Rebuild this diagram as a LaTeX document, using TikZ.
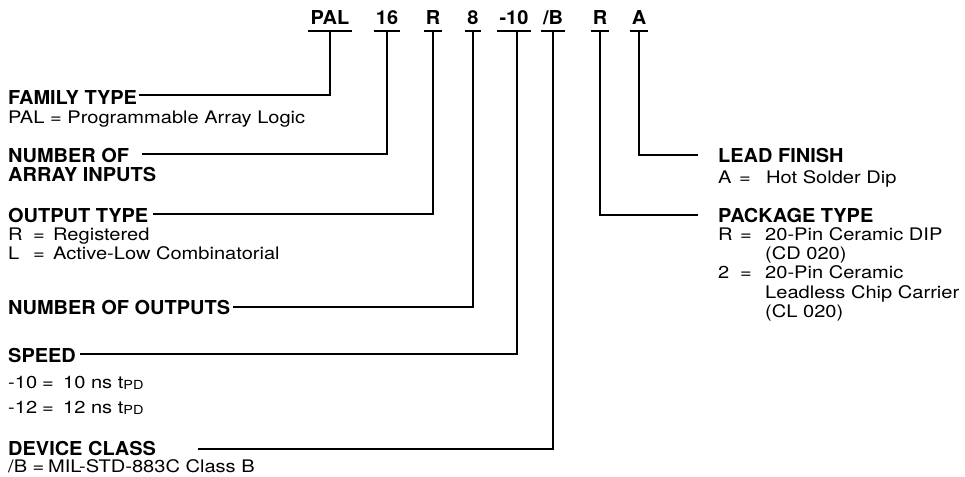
\documentclass[tikz,border=0pt]{standalone}
\usepackage{fontspec}
\setmainfont{TeX Gyre Heros}
\newfontfamily\regf[FakeStretch=1.16]{TeX Gyre Heros}
\newfontfamily\labf[FakeStretch=1.04]{TeX Gyre Heros}
\newcommand\myTpd{{\fontsize{12.5}{12.5}\selectfont\raisebox{-1.5pt}{PD}}}
\tikzset{
  lab/.style={font=\fontsize{19.2}{20}\labf\bfseries, inner sep=0pt, anchor=base},
  hd/.style={font=\fontsize{19.2}{20}\labf\bfseries, inner sep=0pt, anchor=base west},
  tx/.style={font=\fontsize{17.3}{18}\regf, inner sep=0pt, anchor=base west},
  conn/.style={line width=1.9pt, line join=miter},
  ul/.style={line width=2.4pt},
}
\begin{document}
\begin{tikzpicture}[x=1pt,y=-1pt]
\useasboundingbox (0,0) rectangle (965,476);
% top code letters
\node[lab] (tPAL) at (330,25) {PAL};
\node[lab] (t16) at (387,25) {16};
\node[lab] (tR) at (433,25) {R};
\node[lab] (t8) at (473,25) {8};
\node[lab] (t10) at (514,25) {-10};
\node[lab] (tB) at (553,25) {/B};
\node[lab] (tR2) at (600,25) {R};
\node[lab] (tA) at (639,25) {A};
\foreach \n in {tPAL,t16,tR,t8,t10,tB,tR2,tA}
  \draw[ul] ([shift={(-2,6)}]\n.base west) -- ([shift={(2,6)}]\n.base east);
% left descriptions
\node[hd] (fam) at (8,105) {FAMILY TYPE};
\node[tx] (famd) at (8,124) {PAL = Programmable Array Logic};
\node[hd] (nin) at (8,162) {NUMBER OF};
\node[hd] (nin2) at (8,181) {ARRAY INPUTS};
\node[hd] (otp) at (8,222) {OUTPUT TYPE};
\node[tx] (otpk1) at (8,240) {\makebox[25pt][l]{R}=};
\node[tx] (otpd1) at (53,240) {Registered};
\node[tx] (otpk2) at (8,259) {\makebox[25pt][l]{L}=};
\node[tx] (otpd2) at (53,259) {Active-Low Combinatorial};
\node[hd] (nout) at (8,314) {NUMBER OF OUTPUTS};
\node[hd] (spd) at (8,362) {SPEED};
\node[tx] (spk1) at (8,388) {\makebox[34pt][l]{-10}=};
\node[tx] (spd1) at (63,388) {10 ns t\myTpd};
\node[tx] (spk2) at (8,413) {\makebox[34pt][l]{-12}=};
\node[tx] (spd2) at (63,413) {12 ns t\myTpd};
\node[hd] (dev) at (8,455) {DEVICE CLASS};
\node[tx] (devk) at (8,472) {/B =};
\node[tx] (devd) at (48,472) {MIL-STD-883C Class B};
% right descriptions
\node[hd] (lf) at (718,162) {LEAD FINISH};
\node[tx] (lfk) at (718,183) {\makebox[21pt][l]{A}=};
\node[tx] (lfd) at (766,183) {Hot Solder Dip};
\node[hd] (pk) at (718,222) {PACKAGE TYPE};
\node[tx] (pkk1) at (718,240) {\makebox[22pt][l]{R}=};
\node[tx] (pkd1) at (765,240) {20-Pin Ceramic DIP};
\node[tx] (pkd1b) at (765,259) {(CD 020)};
\node[tx] (pkk2) at (718,278) {\makebox[22pt][l]{2}=};
\node[tx] (pkd2) at (765,278) {20-Pin Ceramic};
\node[tx] (pkd2b) at (765,298) {Leadless Chip Carrier};
\node[tx] (pkd2c) at (765,317) {(CL 020)};
% connectors
\draw[conn] ([yshift=-6pt]tPAL.base) |- ([shift={(2,-10)}]fam.base east);
\draw[conn] ([yshift=-6pt]t16.base) |- ([shift={(13,-8)}]nin.base east);
\draw[conn] ([yshift=-6pt]tR.base) |- ([shift={(5,-8)}]otp.base east);
\draw[conn] ([yshift=-6pt]t8.base) |- ([shift={(3,-7)}]nout.base east);
\draw[conn] ([shift={(3,6)}]t10.base) |- ([shift={(4,-8)}]spd.base east);
\draw[conn] ([yshift=-6pt]tB.base) |- ([shift={(42,-6)}]dev.base east);
\draw[conn] ([yshift=-6pt]tA.base) |- ([shift={(-20,-7)}]lf.base west);
\draw[conn] ([yshift=-6pt]tR2.base) |- ([shift={(-20,-7)}]pk.base west);
\end{tikzpicture}
\end{document}
